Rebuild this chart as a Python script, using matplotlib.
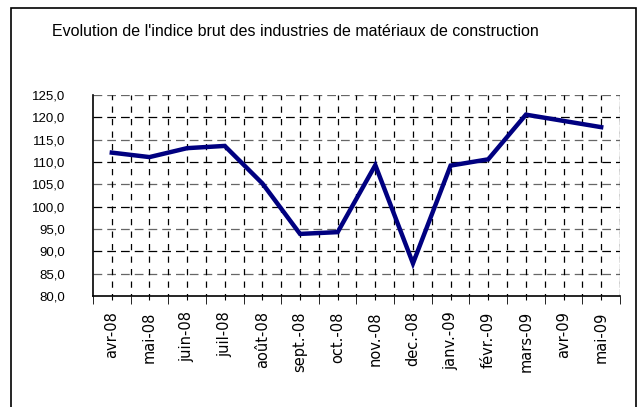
import matplotlib
matplotlib.use('Agg')
import matplotlib.pyplot as plt
from matplotlib.patches import Rectangle
import numpy as np

# data
months = ['avr-08', 'mai-08', 'juin-08', 'juil-08', 'août-08', 'sept.-08', 'oct.-08',
          'nov.-08', 'dec.-08', 'janv.-09', 'févr.-09', 'mars-09', 'avr-09', 'mai-09']
indice = [112.1, 111.1, 113.1, 113.6, 105.2, 93.9, 94.3,
          109.3, 87.3, 109.2, 110.6, 120.6, 119.2, 117.8]
y_ticks = [80, 85, 90, 95, 100, 105, 110, 115, 120, 125]

plt.rcParams['font.family'] = ['Liberation Sans', 'DejaVu Sans']

fig = plt.figure(figsize=(6.42, 4.07), dpi=100)
# outer frame of the chart area
fig.patches.append(Rectangle((11 / 642, -0.05), 625 / 642, 1 - 8 / 407 + 0.05,
                             transform=fig.transFigure, fill=False,
                             edgecolor='black', linewidth=1.2))

ax = fig.add_axes([93 / 642, 1 - 296 / 407, 527 / 642, 201 / 407])
x = np.arange(len(months))

# dashed grid: horizontal every 5, vertical every half category
n = len(months)
for v in y_ticks[1:]:
    col = 'black' if v % 10 == 0 else '#666666'
    ax.axhline(v, color=col, linewidth=0.9, linestyle=(0, (7, 4)), zorder=1)
for gx in np.arange(0, n, 0.5):
    ax.axvline(gx, color='black', linewidth=0.9, linestyle=(3, (5, 5)), zorder=1)
ax.axvline(n - 0.5, color='#666666', linewidth=0.9, linestyle=(0, (6, 4)), zorder=1)

ax.plot(x, indice, color='#000080', linewidth=3.2, solid_joinstyle='miter', zorder=3)

ax.set_xlim(-0.5, n - 0.5)
ax.set_ylim(80, 125)
ax.set_yticks(y_ticks)
ax.set_yticklabels([f'{v:.1f}'.replace('.', ',') for v in y_ticks], fontsize=9.5)
ax.set_xticks(x)
ax.set_xticklabels(months, rotation=90, fontsize=10.5, family='DejaVu Sans')
ax.set_xticks(np.arange(-0.5, n, 1), minor=True)
ax.tick_params(axis='x', which='major', length=3, pad=8)
ax.tick_params(axis='x', which='minor', length=6)
ax.tick_params(axis='y', length=0, pad=20)

ax.spines['top'].set_visible(False)
ax.spines['right'].set_visible(False)
ax.spines['left'].set_linewidth(1.2)
ax.spines['bottom'].set_linewidth(1.2)

fig.text(52 / 642, 1 - 32 / 407, "Evolution de l'indice brut des industries de matériaux de construction",
         fontsize=11.5, ha='left', va='center')

fig.savefig('out.png', dpi=100)
